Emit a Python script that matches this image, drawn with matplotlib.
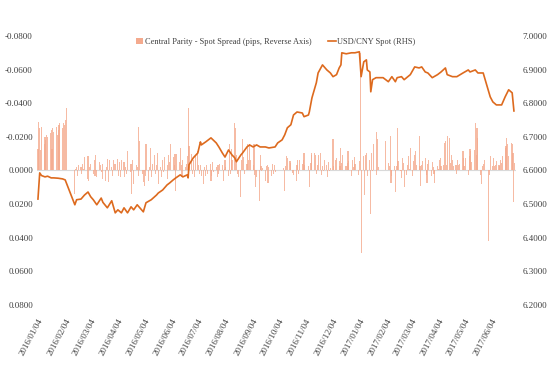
import matplotlib
matplotlib.use("Agg")
import matplotlib.pyplot as plt
import matplotlib.dates as mdates
import matplotlib.ticker as mticker
from matplotlib.patches import Patch
from matplotlib.lines import Line2D
import pandas as pd
import numpy as np

plt.rcParams['font.family'] = ['Liberation Serif', 'DejaVu Serif']

# ---- USD/CNY spot (RHS) ----
spot_dates = ["2016-01-04", "2016-01-06", "2016-01-08", "2016-01-12", "2016-01-15", "2016-01-19", "2016-01-22",
              "2016-01-27", "2016-02-01", "2016-02-04", "2016-02-15", "2016-02-17", "2016-02-22", "2016-02-26",
              "2016-03-01", "2016-03-04", "2016-03-07", "2016-03-11", "2016-03-16", "2016-03-18", "2016-03-23",
              "2016-03-28", "2016-04-01", "2016-04-04", "2016-04-08", "2016-04-11", "2016-04-15", "2016-04-19",
              "2016-04-22", "2016-04-26", "2016-05-03", "2016-05-06", "2016-05-12", "2016-05-18", "2016-05-20",
              "2016-05-25", "2016-05-30", "2016-06-02", "2016-06-06", "2016-06-09", "2016-06-14", "2016-06-17",
              "2016-06-22", "2016-06-23", "2016-06-24", "2016-06-29", "2016-07-04", "2016-07-07", "2016-07-08",
              "2016-07-13", "2016-07-19", "2016-07-25", "2016-07-28", "2016-08-01", "2016-08-04", "2016-08-08",
              "2016-08-12", "2016-08-15", "2016-08-17", "2016-08-22", "2016-08-24", "2016-08-29", "2016-09-01",
              "2016-09-05", "2016-09-09", "2016-09-13", "2016-09-19", "2016-09-23", "2016-09-30", "2016-10-03",
              "2016-10-08", "2016-10-11", "2016-10-14", "2016-10-18", "2016-10-21", "2016-10-25", "2016-10-31",
              "2016-11-02", "2016-11-07", "2016-11-08", "2016-11-11", "2016-11-16", "2016-11-18", "2016-11-23",
              "2016-11-28", "2016-12-02", "2016-12-05", "2016-12-09", "2016-12-12", "2016-12-14", "2016-12-15",
              "2016-12-20", "2016-12-26", "2016-12-30", "2017-01-04", "2017-01-06", "2017-01-09", "2017-01-12",
              "2017-01-13", "2017-01-16", "2017-01-17", "2017-01-19", "2017-01-23", "2017-01-31", "2017-02-06",
              "2017-02-10", "2017-02-14", "2017-02-16", "2017-02-21", "2017-02-24", "2017-03-03", "2017-03-08",
              "2017-03-13", "2017-03-16", "2017-03-20", "2017-03-23", "2017-03-28", "2017-04-03", "2017-04-07",
              "2017-04-12", "2017-04-14", "2017-04-20", "2017-04-25", "2017-05-02", "2017-05-08", "2017-05-10",
              "2017-05-16", "2017-05-19", "2017-05-25", "2017-05-29", "2017-06-02", "2017-06-05", "2017-06-09",
              "2017-06-15", "2017-06-19", "2017-06-23", "2017-06-27", "2017-06-29"]
spot_values = [6.515, 6.593, 6.585, 6.581, 6.583, 6.578, 6.578,
               6.577, 6.575, 6.572, 6.498, 6.513, 6.515, 6.527,
               6.536, 6.522, 6.513, 6.498, 6.518, 6.505, 6.489,
               6.510, 6.474, 6.483, 6.474, 6.489, 6.474, 6.492,
               6.483, 6.498, 6.477, 6.504, 6.513, 6.527, 6.533,
               6.542, 6.557, 6.563, 6.572, 6.578, 6.587, 6.581,
               6.587, 6.578, 6.617, 6.638, 6.652, 6.685, 6.676,
               6.685, 6.697, 6.682, 6.670, 6.652, 6.640, 6.661,
               6.646, 6.638, 6.626, 6.646, 6.652, 6.670, 6.676,
               6.670, 6.676, 6.670, 6.670, 6.667, 6.670, 6.682,
               6.691, 6.706, 6.727, 6.736, 6.765, 6.774, 6.771,
               6.760, 6.765, 6.774, 6.816, 6.861, 6.890, 6.914,
               6.899, 6.890, 6.879, 6.885, 6.905, 6.914, 6.950,
               6.947, 6.950, 6.950, 6.953, 6.879, 6.923, 6.929,
               6.899, 6.893, 6.834, 6.870, 6.876, 6.876, 6.864,
               6.879, 6.864, 6.876, 6.879, 6.870, 6.885, 6.908,
               6.905, 6.908, 6.893, 6.890, 6.876, 6.885, 6.893,
               6.905, 6.885, 6.879, 6.879, 6.890, 6.899, 6.893,
               6.899, 6.890, 6.890, 6.855, 6.819, 6.804, 6.795,
               6.795, 6.819, 6.840, 6.831, 6.777]

# ---- Central parity - spot spread (daily, business days per month) ----
spread_2016_01 = [-0.013, -0.029, -0.025, -0.012, -0.026, -0.016, -0.020, -0.018, -0.021, -0.020,
                  -0.022, -0.024, -0.013, -0.025, -0.023, -0.026, -0.021, -0.024, -0.027, -0.028]
spread_2016_02 = [-0.025, -0.028, -0.027, -0.030, -0.037, 0, 0, 0, 0, 0,
                  0.014, -0.001, -0.002, 0.003, -0.003, -0.002, 0.002, -0.004, -0.001, -0.008, 0.005]
spread_2016_03 = [-0.0085, 0.006, -0.002, -0.004, 0.002, -0.006, 0.003, -0.0095, 0.004, -0.005, -0.003, 0.001,
                  -0.004, 0.005, 0.006, -0.002, -0.007, 0.007, -0.006, -0.002, 0.003, -0.006, -0.004]
spread_2016_04 = [-0.004, -0.007, 0.003, -0.005, 0.004, -0.006, -0.005, 0.004, -0.002, 0.002, -0.0115,
                  0.001, -0.004, 0.014, -0.006, 0.008, -0.003, -0.002, 0.003, -0.026, -0.0175]
spread_2016_05 = [0.002, 0.007, 0.009, 0.003, -0.0155, 0.006, -0.002, -0.0135, 0.004, -0.004, -0.0095,
                  0.002, -0.003, -0.0105, 0.008, -0.002, 0.004, -0.006, 0.001, -0.008, 0.005, -0.003]
spread_2016_06 = [-0.0095, -0.005, -0.0155, -0.008, -0.003, -0.010, 0.012, -0.010, -0.005, -0.0135, -0.003,
                  0.004, -0.006, -0.002, -0.004, -0.0085, -0.037, -0.0145, -0.010, 0.002, -0.006, 0.004]
spread_2016_07 = [-0.0085, -0.0115, -0.003, 0.002, -0.003, 0.003, 0.008, -0.002, 0.003, -0.003, 0.002,
                  -0.004, 0.006, 0.003, -0.005, 0.001, -0.002, 0.004, -0.003, 0.002, -0.004]
spread_2016_08 = [-0.003, 0.006, -0.001, -0.006, -0.002, 0.003, -0.0155, 0.002, -0.0125, -0.006, -0.028, -0.025,
                  -0.009, 0.002, 0.004, 0.016, -0.006, -0.019, -0.008, 0.002, -0.004, -0.0155, -0.006]
spread_2016_09 = [-0.0155, -0.0065, -0.0035, -0.0155, 0.0025, 0.010, 0.004, 0.018, -0.0095, -0.0025, 0.0005,
                  -0.0015, 0.006, -0.0025, -0.0035, 0.0075, -0.002, 0.003, -0.004, 0.002, -0.003, 0.001]
spread_2016_10 = [0, 0, 0, 0, 0, -0.0017, 0.012, -0.0025, -0.0085, -0.0075, -0.0055,
                  -0.0045, -0.0005, 0.0015, 0.0025, 0.0064, -0.0035, -0.0065, 0.002, -0.0065, -0.004]
spread_2016_11 = [-0.0065, -0.0105, -0.0035, -0.0005, -0.0025, 0.010, -0.0045, -0.0105, -0.0095, -0.0105, -0.0095,
                  0.002, -0.0035, -0.0095, -0.0105, 0.0024, -0.0025, 0.0004, -0.006, -0.003, 0.004, -0.005]
spread_2016_12 = [0.0004, -0.0015, -0.0185, -0.0025, -0.0005, -0.0065, -0.0075, -0.0055, -0.0025, -0.0135, -0.0045,
                  -0.0095, -0.0025, -0.0025, -0.0045, -0.0115, -0.0055, 0.003, -0.006, -0.002, -0.008, -0.004]
spread_2017_01 = [0, 0.0024, -0.0055, -0.070, 0.049, -0.0085, 0.0143, -0.0095, -0.0105, 0.003, -0.006,
                  0.026, -0.0105, 0.0004, -0.0155, -0.023, 0.0024, -0.019, -0.002, 0, 0, 0]
spread_2017_02 = [0, 0, -0.0175, -0.0045, -0.0025, -0.0204, 0.0074, 0.0034, -0.0025, 0.013,
                  -0.0025, -0.025, -0.0055, 0.0004, 0.0044, -0.0075, -0.0045, 0.010, 0.0024, -0.003]
spread_2017_03 = [-0.0085, -0.0006, -0.0135, 0.0034, -0.0055, -0.0095, -0.0115, -0.0035, -0.0204, -0.0025, 0.0093,
                  -0.0035, -0.0055, -0.0075, 0.0024, 0.0073, -0.004, -0.006, 0.003, -0.005, -0.002, 0.002, 0.0075]
spread_2017_04 = [-0.0025, -0.0006, -0.0065, -0.0075, -0.0025, -0.0035, -0.0165, -0.0175, -0.0035, -0.0204,
                  -0.0195, -0.0045, -0.0095, -0.0065, -0.0025, -0.0035, 0.002, -0.006, -0.003, -0.004]
spread_2017_05 = [0, -0.0115, -0.0075, -0.0025, -0.0075, 0.0024, -0.0085, -0.0125, -0.0115, -0.005, -0.012, -0.0284,
                  -0.0095, -0.0254, -0.0195, 0.0024, 0.008, -0.0025, -0.004, -0.006, 0, 0, 0.042]
spread_2017_06 = [0.0024, -0.0085, -0.0025, -0.0075, -0.0025, -0.0035, -0.0055, -0.0035, -0.0025, -0.0065, -0.0045,
                  -0.0085, -0.0135, -0.0145, -0.0194, -0.0155, -0.0085, -0.0165, -0.0155, -0.0105, 0.019, -0.0045]

spread_months = [("2016-01-04", "2016-01-31", spread_2016_01), ("2016-02-01", "2016-02-29", spread_2016_02),
                 ("2016-03-01", "2016-03-31", spread_2016_03), ("2016-04-01", "2016-04-30", spread_2016_04),
                 ("2016-05-01", "2016-05-31", spread_2016_05), ("2016-06-01", "2016-06-30", spread_2016_06),
                 ("2016-07-01", "2016-07-31", spread_2016_07), ("2016-08-01", "2016-08-31", spread_2016_08),
                 ("2016-09-01", "2016-09-30", spread_2016_09), ("2016-10-01", "2016-10-31", spread_2016_10),
                 ("2016-11-01", "2016-11-30", spread_2016_11), ("2016-12-01", "2016-12-31", spread_2016_12),
                 ("2017-01-01", "2017-01-31", spread_2017_01), ("2017-02-01", "2017-02-28", spread_2017_02),
                 ("2017-03-01", "2017-03-31", spread_2017_03), ("2017-04-01", "2017-04-30", spread_2017_04),
                 ("2017-05-01", "2017-05-31", spread_2017_05), ("2017-06-01", "2017-06-30", spread_2017_06)]

tick_dates = ["2016-01-04", "2016-02-04", "2016-03-04", "2016-04-04", "2016-05-04", "2016-06-04",
              "2016-07-04", "2016-08-04", "2016-09-04", "2016-10-04", "2016-11-04", "2016-12-04",
              "2017-01-04", "2017-02-04", "2017-03-04", "2017-04-04", "2017-05-04", "2017-06-04"]

bar_dates, bar_vals = [], []
for start, end, vals in spread_months:
    days = pd.bdate_range(start, end)
    n = min(len(days), len(vals))
    bar_dates.extend(days[:n])
    bar_vals.extend(vals[:n])

fig = plt.figure(figsize=(5.51, 3.74), dpi=100)
ax = fig.add_axes([0.0673, 0.1845, 0.8686, 0.7193])
ax2 = ax.twinx()

bar_color = '#F4AA8E'
line_color = '#DD6A1E'
text_color = '#404040'

ax.bar(pd.to_datetime(bar_dates), bar_vals, width=1.25, color=bar_color, alpha=0.8, linewidth=0)
ax.axhline(0, color='#D9D9D9', lw=0.8, zorder=0)
ax.set_ylim(0.08, -0.08)
ax.set_yticks(np.arange(-0.08, 0.0801, 0.02))
ax.yaxis.set_major_formatter(mticker.FuncFormatter(lambda v, p: f"{v:.4f}".replace("-0.0000", "0.0000")))

ax2.plot(pd.to_datetime(spot_dates), spot_values, color=line_color, lw=1.2)
ax2.set_ylim(6.2, 7.0)
ax2.set_yticks(np.arange(6.2, 7.001, 0.1))
ax2.yaxis.set_major_formatter(mticker.FuncFormatter(lambda v, p: f"{v:.4f}"))

ax.set_xlim(pd.Timestamp("2016-01-03"), pd.Timestamp("2017-07-01"))
ax.set_xticks(pd.to_datetime(tick_dates))
ax.xaxis.set_major_formatter(mdates.DateFormatter("%Y/%m/%d"))
for lab in ax.get_xticklabels():
    lab.set_rotation(62)
    lab.set_ha('right')
    lab.set_va('top')
    lab.set_rotation_mode('anchor')

for a in (ax, ax2):
    for s in a.spines.values():
        s.set_visible(False)
    a.tick_params(length=0, labelsize=6.5, colors=text_color)
ax.tick_params(axis='x', pad=9)
ax.tick_params(axis='y', pad=3)
ax2.tick_params(axis='y', pad=5)

handles = [Patch(facecolor=bar_color, edgecolor='none'),
           Line2D([0], [0], color=line_color, lw=1.2)]
labels = ["Central Parity - Spot Spread (pips, Reverse Axis)", "USD/CNY Spot (RHS)"]
fig.legend(handles, labels, loc='center', bbox_to_anchor=(0.5, 0.888), ncol=2, frameon=False,
           fontsize=6, handlelength=0.9, handleheight=0.6, handletextpad=0.2, columnspacing=2.0,
           labelcolor=text_color)

fig.savefig("out.png", dpi=100)
